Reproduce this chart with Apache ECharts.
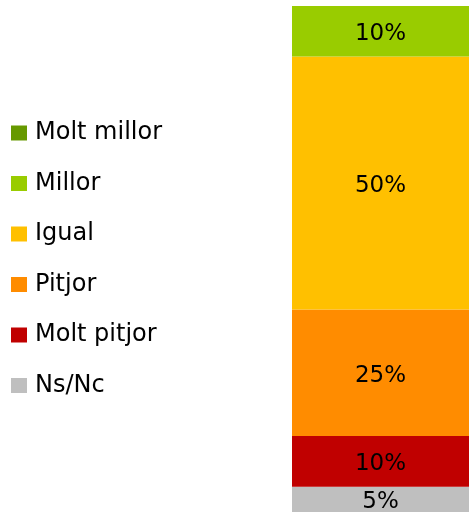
<!DOCTYPE html>
<html>
<head>
<meta charset="utf-8">
<script src="https://cdn.jsdelivr.net/npm/echarts@6/dist/echarts.min.js"></script>
<style>
  html, body { margin: 0; padding: 0; background: #fff; }
  #chart { width: 469px; height: 512px; }
</style>
</head>
<body>
<div id="chart"></div>
<script>
// dades de la barra apilada (de baix a dalt)
let categories = ['Resposta'];
let seriesNames = ['Ns/Nc', 'Molt pitjor', 'Pitjor', 'Igual', 'Millor', 'Molt millor'];
let seriesValues = [5, 10, 25, 50, 10, 0];
let seriesColors = ['#BFBFBF', '#C00000', '#FF8C00', '#FFC000', '#99CC00', '#669900'];
let legendOrder = ['Molt millor', 'Millor', 'Igual', 'Pitjor', 'Molt pitjor', 'Ns/Nc'];

let myChart = echarts.init(document.getElementById('chart'));
let fontFam = '"DejaVu Sans", sans-serif';

let series = seriesNames.map(function (name, i) {
    return {
        name: name,
        type: 'bar',
        stack: 'total',
        barWidth: '100%',
        data: [seriesValues[i]],
        itemStyle: { color: seriesColors[i] },
        label: {
            show: true,
            position: 'inside',
            offset: [0, 3],
            color: '#000',
            fontSize: 23,
            fontFamily: fontFam,
            formatter: function (p) {
                return p.value > 0 ? p.value + '%' : '';
            }
        }
    };
});

let option = {
    animation: false,
    legend: {
        orient: 'vertical',
        left: 11,
        top: 121,
        padding: 0,
        data: legendOrder,
        itemWidth: 16,
        itemHeight: 15,
        itemGap: 26.5,
        icon: 'rect',
        textStyle: {
            fontSize: 24,
            lineHeight: 24,
            color: '#000',
            fontFamily: fontFam,
            padding: [0, 0, 0, 3]
        }
    },
    grid: {
        left: 292,
        right: 0,
        top: 6,
        height: 507
    },
    xAxis: {
        type: 'category',
        data: categories,
        show: false
    },
    yAxis: {
        type: 'value',
        min: 0,
        max: 100,
        show: false
    },
    series: series
};

myChart.setOption(option);
</script>
</body>
</html>
